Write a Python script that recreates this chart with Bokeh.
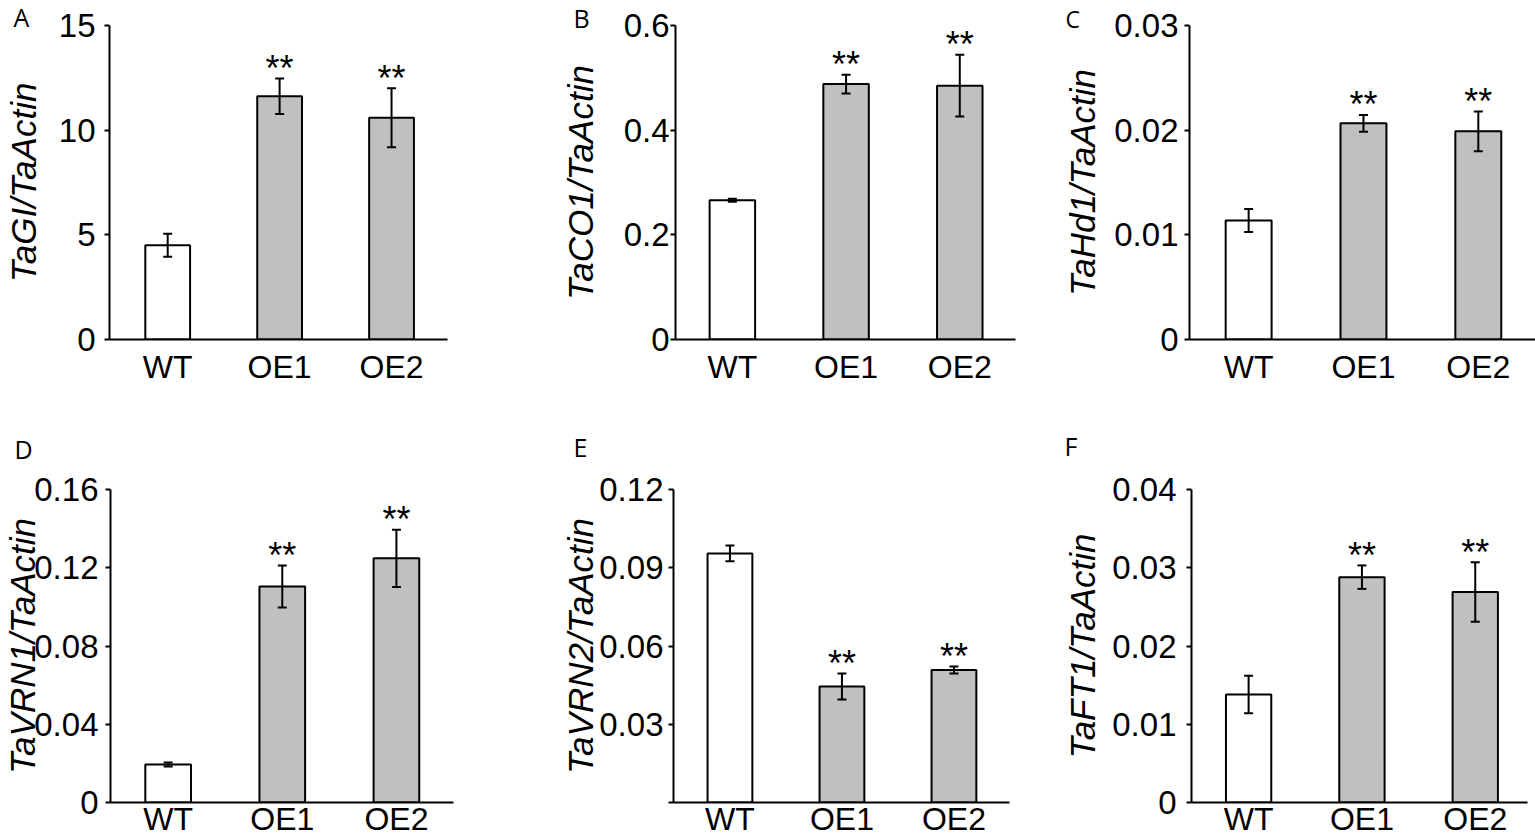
from bokeh.plotting import figure
from bokeh.models import ColumnDataSource, Range1d, FixedTicker, Whisker, TeeHead, Title
from bokeh.layouts import row, column
from bokeh.core.properties import value
from bokeh.embed import file_html
from bokeh.resources import INLINE

# ---------------- data ----------------
cats = ["WT", "OE1", "OE2"]
marks = ["", "**", "**"]
bar_colors = ["white", "#c0c0c0", "#c0c0c0"]

letters = ["A", "B", "C", "D", "E", "F"]
titles = ["TaGI/TaActin", "TaCO1/TaActin", "TaHd1/TaActin",
          "TaVRN1/TaActin", "TaVRN2/TaActin", "TaFT1/TaActin"]

a_mean = [4.50, 11.62, 10.59]
a_err = [0.55, 0.85, 1.41]
b_mean = [0.266, 0.488, 0.485]
b_err = [0.003, 0.018, 0.059]
c_mean = [0.01137, 0.02065, 0.01989]
c_err = [0.0011, 0.0008, 0.0019]
d_mean = [0.0194, 0.1104, 0.1248]
d_err = [0.0010, 0.0107, 0.0146]
e_mean = [0.0955, 0.0445, 0.0508]
e_err = [0.0030, 0.0050, 0.0013]
f_mean = [0.0138, 0.0288, 0.0269]
f_err = [0.0024, 0.0015, 0.0038]

a_ticks = [0, 5, 10, 15]
a_tick_labels = ["0", "5", "10", "15"]
b_ticks = [0, 0.2, 0.4, 0.6]
b_tick_labels = ["0", "0.2", "0.4", "0.6"]
c_ticks = [0, 0.01, 0.02, 0.03]
c_tick_labels = ["0", "0.01", "0.02", "0.03"]
d_ticks = [0, 0.04, 0.08, 0.12, 0.16]
d_tick_labels = ["0", "0.04", "0.08", "0.12", "0.16"]
e_ticks = [0, 0.03, 0.06, 0.09, 0.12]
e_tick_labels = ["", "0.03", "0.06", "0.09", "0.12"]
f_ticks = [0, 0.01, 0.02, 0.03, 0.04]
f_tick_labels = ["0", "0.01", "0.02", "0.03", "0.04"]

y_tops = [15, 0.6, 0.03, 0.16, 0.12, 0.04]

means = [a_mean, b_mean, c_mean, d_mean, e_mean, f_mean]
errs = [a_err, b_err, c_err, d_err, e_err, f_err]
ticks = [a_ticks, b_ticks, c_ticks, d_ticks, e_ticks, f_ticks]
tick_labels = [a_tick_labels, b_tick_labels, c_tick_labels,
               d_tick_labels, e_tick_labels, f_tick_labels]

# ---------------- layout (page pixel coordinates) ----------------
ROW_Y = [0, 392]
ROW_H = [392, 448]
COL_X = [0, 540, 1060]
COL_W = [540, 520, 475]

# fl/fr/ft/fb: frame edges; xs/xe: x range; ysto/xsto: tick label standoffs;
# tsto: y-title standoff; lof/lst/lfs: panel letter offset / standoff / size
geo = [
    dict(fl=108, fr=447, ft=23, fb=339, xs=0.48, xe=3.50, ysto=9, xsto=9, tsto=13,
         lof=-96, lst=-17, lfs=25),
    dict(fl=675, fr=1015, ft=22, fb=340, xs=0.50, xe=3.49, ysto=1, xsto=9, tsto=21,
         lof=-102, lst=-19, lfs=25),
    dict(fl=1187, fr=1535, ft=25, fb=342, xs=0.485, xe=3.498, ysto=6, xsto=9, tsto=9,
         lof=-124, lst=-19, lfs=23),
    dict(fl=108, fr=453, ft=488, fb=802, xs=0.495, xe=3.50, ysto=7, xsto=-2, tsto=-11,
         lof=-96, lst=48, lfs=25),
    dict(fl=673, fr=1009, ft=488, fb=802, xs=0.496, xe=3.496, ysto=5, xsto=-2, tsto=-4,
         lof=-100, lst=52, lfs=25),
    dict(fl=1189, fr=1527, ft=489, fb=802, xs=0.496, xe=3.461, ysto=10, xsto=-2, tsto=7,
         lof=-127, lst=54, lfs=25),
]

FONT = "Liberation Sans"
xpos = [i + 1 for i in range(len(cats))]


def make_panel(i):
    g = geo[i]
    r, c = divmod(i, 3)
    cx0, cy0, cw, ch = COL_X[c], ROW_Y[r], COL_W[c], ROW_H[r]
    p = figure(width=cw, height=ch, output_backend="svg", toolbar_location=None,
               title=None,
               x_range=Range1d(g["xs"], g["xe"]), y_range=Range1d(0, y_tops[i]),
               min_border_left=int(round(g["fl"] - cx0)),
               min_border_right=int(round(cx0 + cw - g["fr"])),
               min_border_top=int(round(g["ft"] - cy0)),
               min_border_bottom=int(round(cy0 + ch - g["fb"])))
    p.outline_line_color = None
    p.xgrid.visible = False
    p.ygrid.visible = False
    p.background_fill_color = "white"
    p.border_fill_color = "white"

    upper = [m + e for m, e in zip(means[i], errs[i])]
    lower = [m - e for m, e in zip(means[i], errs[i])]
    src = ColumnDataSource(dict(x=xpos, top=means[i], upper=upper, lower=lower,
                                color=bar_colors, mark=marks))

    p.vbar(x="x", top="top", bottom=0, width=0.4, source=src,
           fill_color="color", line_color="black", line_width=2)

    w = Whisker(base="x", upper="upper", lower="lower", source=src,
                line_color="black", line_width=2, level="annotation",
                upper_head=TeeHead(size=9, line_width=2, line_color="black"),
                lower_head=TeeHead(size=9, line_width=2, line_color="black"))
    p.add_layout(w)

    p.text(x="x", y="upper", text="mark", source=src,
           text_font=value(FONT), text_font_size="36px", text_color="black",
           text_align="center", text_baseline="alphabetic", y_offset=-10)

    # y axis
    ya = p.yaxis[0]
    ya.ticker = FixedTicker(ticks=ticks[i])
    ya.major_label_overrides = dict(zip(ticks[i], tick_labels[i]))
    ya.axis_line_width = 2
    ya.axis_line_color = "black"
    ya.major_tick_line_width = 2
    ya.major_tick_line_color = "black"
    ya.major_tick_out = 5
    ya.major_tick_in = 0
    ya.minor_tick_line_color = None
    ya.major_label_standoff = g["ysto"]
    ya.major_label_text_font = FONT
    ya.major_label_text_font_size = "33px"
    ya.major_label_text_color = "black"
    ya.axis_label = titles[i]
    ya.axis_label_text_font = FONT
    ya.axis_label_text_font_style = "italic"
    ya.axis_label_text_font_size = "35px"
    ya.axis_label_text_color = "black"
    ya.axis_label_standoff = g["tsto"]

    # x axis
    xa = p.xaxis[0]
    xa.ticker = FixedTicker(ticks=xpos)
    xa.major_label_overrides = dict(zip(xpos, cats))
    xa.axis_line_width = 2
    xa.axis_line_color = "black"
    xa.major_tick_line_color = None
    xa.major_tick_out = 0
    xa.major_tick_in = 0
    xa.minor_tick_line_color = None
    xa.major_label_standoff = g["xsto"]
    xa.major_label_text_font = FONT
    xa.major_label_text_font_size = "32px"
    xa.major_label_text_color = "black"

    # panel letter
    p.add_layout(Title(text=letters[i], align="left", vertical_align="bottom",
                       offset=g["lof"], standoff=g["lst"],
                       text_font="Open Sans", text_font_size="%dpx" % g["lfs"],
                       text_font_style="normal", text_color="black"), "above")
    return p


panels = [make_panel(i) for i in range(6)]
layout = column(row(*panels[:3]), row(*panels[3:]))

open("out.html", "w").write(file_html(layout, INLINE))
